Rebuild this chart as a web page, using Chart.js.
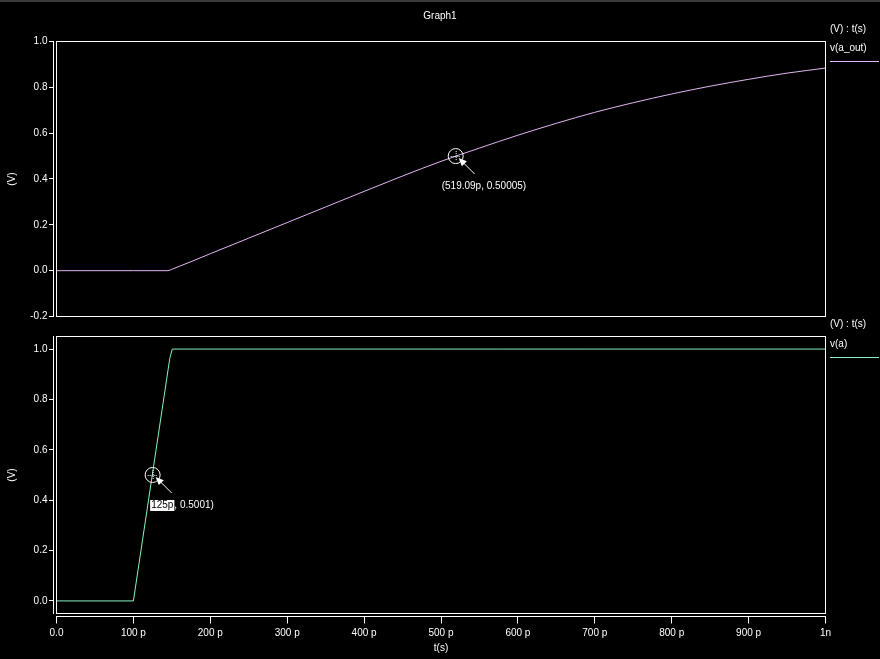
<!DOCTYPE html>
<html><head><meta charset="utf-8">
<script src="https://cdn.jsdelivr.net/npm/chart.js@4.4.0/dist/chart.umd.min.js"></script>
<style>
html,body{margin:0;padding:0;background:#000;width:880px;height:659px;overflow:hidden}
canvas{position:absolute;left:0;top:0}
#bar{position:absolute;left:0;top:0;width:880px;height:2px;background:#3a3a3a;z-index:5}
</style></head><body>
<div id="bar"></div>
<canvas id="c1" width="880" height="659"></canvas>
<canvas id="c2" width="880" height="659"></canvas>
<script>
// ---- data (time in ps, voltage in V) ----
const tOut = [0, 100, 145, 150, 200, 250, 300, 350, 400, 450, 500, 550, 600, 650, 700, 750, 800, 850, 900, 950, 1000];
const vOut = [0, 0, 0, 0.006, 0.074, 0.142, 0.21, 0.278, 0.346, 0.413, 0.477, 0.535, 0.591, 0.643, 0.691, 0.733, 0.771, 0.805, 0.835, 0.862, 0.884];
const tIn = [0, 100, 147.3, 150.5, 1000];
const vIn = [0, 0, 0.963, 1, 1];
const xTicks = [0, 100, 200, 300, 400, 500, 600, 700, 800, 900, 1000];
const xTickLabels = ['0.0', '100 p', '200 p', '300 p', '400 p', '500 p', '600 p', '700 p', '800 p', '900 p', '1n'];
const yTicksTop = [-0.2, 0, 0.2, 0.4, 0.6, 0.8, 1.0];
const yTicksBottom = [0, 0.2, 0.4, 0.6, 0.8, 1.0];
const markerOut = {t: 519.09, v: 0.50005, label: '(519.09p, 0.50005)'};
const markerIn = {t: 125, v: 0.5001, boxLabel: '125p', label: ', 0.5001)'};

const FONT = '10px "Liberation Sans", Arial, sans-serif';
const WHITE = '#ffffff';
const C_OUT = '#dfb6f2';
const C_IN = '#86f2c2';

function drawMarker(ctx, px, py) {
  ctx.save();
  ctx.strokeStyle = WHITE; ctx.fillStyle = WHITE; ctx.lineWidth = 1;
  ctx.beginPath(); ctx.arc(px, py, 7.5, 0, Math.PI * 2); ctx.stroke();
  ctx.setLineDash([1, 1]);
  ctx.beginPath();
  ctx.moveTo(px - 5, py + 0.5); ctx.lineTo(px + 5, py + 0.5);
  ctx.moveTo(px + 0.5, py - 5); ctx.lineTo(px + 0.5, py + 5);
  ctx.stroke();
  ctx.setLineDash([]);
  // arrow
  const tx = px + 19, ty = py + 18, hx = px + 3, hy = py + 2;
  ctx.beginPath(); ctx.moveTo(tx, ty); ctx.lineTo(hx + 5, hy + 5); ctx.stroke();
  const dx = -0.7071, dy = -0.7071, L = 8, W = 3.5;
  ctx.beginPath();
  ctx.moveTo(hx, hy);
  ctx.lineTo(hx - dx * L - dy * W, hy - dy * L + dx * W);
  ctx.lineTo(hx - dx * L + dy * W, hy - dy * L - dx * W);
  ctx.closePath(); ctx.fill();
  ctx.restore();
}

function framePlugin(cfg) {
  return {
    id: 'frame_' + cfg.id,
    afterDraw(chart) {
      const ctx = chart.ctx, a = chart.chartArea, ys = chart.scales.y, xs = chart.scales.x;
      ctx.save();
      ctx.strokeStyle = WHITE; ctx.lineWidth = 1;
      ctx.strokeRect(a.left, a.top, a.right - a.left, a.bottom - a.top);
      const ax = a.left - 3;
      ctx.beginPath();
      ctx.moveTo(ax, a.top - 0.5); ctx.lineTo(ax, a.bottom + 0.5);
      ys.ticks.forEach(t => {
        const y = Math.round(ys.getPixelForValue(t.value) - 0.5) + 0.5;
        ctx.moveTo(ax - 4.5, y); ctx.lineTo(ax, y);
      });
      if (cfg.xAxis) {
        const ay = a.bottom + 3;
        ctx.moveTo(a.left - 0.5, ay); ctx.lineTo(a.right + 0.5, ay);
        xs.ticks.forEach(t => {
          const x = Math.round(xs.getPixelForValue(t.value) - 0.5) + 0.5;
          ctx.moveTo(x, ay); ctx.lineTo(x, ay + 7);
        });
      }
      ctx.stroke();
      // legend
      ctx.font = FONT; ctx.fillStyle = WHITE; ctx.textBaseline = 'middle'; ctx.textAlign = 'left';
      ctx.fillText('(V) : t(s)', 830, cfg.legendY1);
      ctx.fillText(cfg.name, 830, cfg.legendY2);
      ctx.strokeStyle = cfg.color;
      ctx.beginPath(); ctx.moveTo(830, cfg.legendLineY); ctx.lineTo(879, cfg.legendLineY); ctx.stroke();
      if (cfg.title) {
        ctx.textAlign = 'center'; ctx.fillStyle = WHITE;
        ctx.fillText(cfg.title, 440, 16);
      }
      // marker
      const m = cfg.marker;
      const px = xs.getPixelForValue(m.t), py = ys.getPixelForValue(m.v);
      drawMarker(ctx, px, py);
      ctx.font = FONT; ctx.textBaseline = 'middle'; ctx.textAlign = 'left';
      if (m.boxLabel) {
        const w = ctx.measureText(m.boxLabel).width;
        ctx.fillStyle = WHITE;
        ctx.fillRect(px - 2.5, py + 25, w + 2, 11);
        ctx.fillStyle = '#000';
        ctx.fillText(m.boxLabel, px - 1.5, py + 30.5);
        ctx.fillStyle = WHITE;
        ctx.fillText(m.label, px - 0.5 + w, py + 30.5);
      } else {
        ctx.fillStyle = WHITE;
        ctx.fillText(m.label, px - 14, py + 30.5);
      }
      ctx.restore();
    }
  };
}

function yScale(min, max, ticks) {
  return {
    type: 'linear', min: min, max: max,
    afterBuildTicks: s => { s.ticks = ticks.map(v => ({value: v})); },
    afterFit: s => { s.width = 56.5; },
    grid: {display: true, drawOnChartArea: false, drawTicks: true, tickLength: 5, color: 'rgba(0,0,0,0)'},
    border: {display: false},
    ticks: {color: WHITE, font: {family: '"Liberation Sans", Arial, sans-serif', size: 10}, padding: 4,
            callback: v => Number(v).toFixed(1)},
    title: {display: true, text: '(V)', color: WHITE, font: {family: '"Liberation Sans", Arial, sans-serif', size: 10},
            padding: {top: 6, bottom: 0}}
  };
}

Chart.defaults.font.family = '"Liberation Sans", Arial, sans-serif';
Chart.defaults.font.size = 10;

new Chart(document.getElementById('c1'), {
  type: 'line',
  data: {datasets: [{
    label: 'v(a_out)',
    data: tOut.map((t, i) => ({x: t, y: vOut[i]})),
    borderColor: C_OUT, borderWidth: 1, pointRadius: 0, cubicInterpolationMode: 'monotone', fill: false
  }]},
  options: {
    responsive: false, animation: false, events: [],
    layout: {padding: {left: 0, top: 41.5, right: 54.5, bottom: 659 - 316.5}},
    plugins: {legend: {display: false}, tooltip: {enabled: false}, title: {display: false}},
    scales: {
      x: {type: 'linear', min: 0, max: 1000, display: false},
      y: yScale(-0.2, 1.0, yTicksTop)
    }
  },
  plugins: [framePlugin({id: 1, xAxis: false, name: 'v(a_out)', color: C_OUT, legendY1: 29, legendY2: 48.5, legendLineY: 61.5, title: 'Graph1', marker: markerOut})]
});

new Chart(document.getElementById('c2'), {
  type: 'line',
  data: {datasets: [{
    label: 'v(a)',
    data: tIn.map((t, i) => ({x: t, y: vIn[i]})),
    borderColor: C_IN, borderWidth: 1, pointRadius: 0, tension: 0, fill: false
  }]},
  options: {
    responsive: false, animation: false, events: [],
    layout: {padding: {left: 0, top: 336.5, right: 54.5, bottom: 0}},
    plugins: {legend: {display: false}, tooltip: {enabled: false}, title: {display: false}},
    scales: {
      x: {
        type: 'linear', min: 0, max: 1000,
        afterBuildTicks: s => { s.ticks = xTicks.map(v => ({value: v})); },
        afterFit: s => { s.height = 659 - 613.5; },
        grid: {display: true, drawOnChartArea: false, drawTicks: true, tickLength: 7, color: 'rgba(0,0,0,0)'},
        border: {display: false},
        ticks: {color: WHITE, padding: 7, maxRotation: 0, autoSkip: false,
                callback: (v) => { const i = xTicks.indexOf(v); return i >= 0 ? xTickLabels[i] : ''; }},
        title: {display: true, text: 't(s)', color: WHITE, padding: {top: 0, bottom: 5}}
      },
      y: yScale(-0.05, 1.05, yTicksBottom)
    }
  },
  plugins: [framePlugin({id: 2, xAxis: true, name: 'v(a)', color: C_IN, legendY1: 324, legendY2: 344, legendLineY: 357.5, marker: markerIn})]
});
</script>
</body></html>
